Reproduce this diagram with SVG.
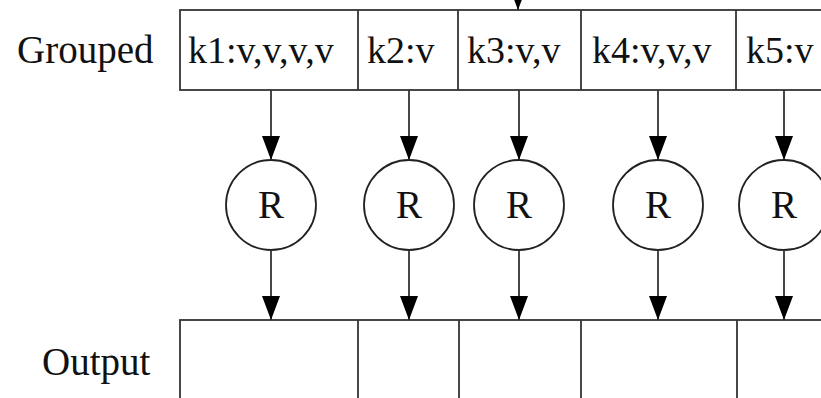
<svg xmlns="http://www.w3.org/2000/svg" width="821" height="398" viewBox="0 0 821 398">
<defs>
<style>
.box{fill:#fff;stroke:#333;stroke-width:1.8}
.div{stroke:#333;stroke-width:1.8}
.lbl{font-family:"Liberation Serif","Times New Roman",serif;font-size:39px;fill:#111}
.cell{font-family:"Liberation Serif","Times New Roman",serif;font-size:38px;fill:#111}
.circ{fill:#fff;stroke:#222;stroke-width:1.8}
.conn{stroke:#333;stroke-width:1.8;fill:none}
</style>
<marker id="ah" viewBox="0 0 24 18" refX="24" refY="9" markerWidth="24" markerHeight="18" markerUnits="userSpaceOnUse" orient="auto">
<path d="M0,0 L24,9 L0,18 z" fill="#000"/>
</marker>
</defs>
<rect width="821" height="398" fill="#fff"/>

<g id="label-grouped"><text class="lbl" x="17" y="63">Grouped</text></g>
<g id="label-output"><text class="lbl" x="42" y="375">Output</text></g>

<g id="grouped">
<rect class="box" x="180" y="10" width="660" height="80"/>
<line class="div" x1="358" y1="10" x2="358" y2="90"/>
<line class="div" x1="458" y1="10" x2="458" y2="90"/>
<line class="div" x1="581" y1="10" x2="581" y2="90"/>
<line class="div" x1="736" y1="10" x2="736" y2="90"/>
<text class="cell" x="188" y="63">k1:v,v,v,v</text>
<text class="cell" x="367" y="63">k2:v</text>
<text class="cell" x="467" y="63">k3:v,v</text>
<text class="cell" x="592" y="63">k4:v,v,v</text>
<text class="cell" x="746" y="63">k5:v</text>
</g>

<g id="r1"><circle class="circ" cx="271" cy="205" r="45"/><text class="lbl" x="271" y="218" text-anchor="middle">R</text></g>
<g id="r2"><circle class="circ" cx="409" cy="205" r="45"/><text class="lbl" x="409" y="218" text-anchor="middle">R</text></g>
<g id="r3"><circle class="circ" cx="519" cy="205" r="45"/><text class="lbl" x="519" y="218" text-anchor="middle">R</text></g>
<g id="r4"><circle class="circ" cx="658" cy="205" r="45"/><text class="lbl" x="658" y="218" text-anchor="middle">R</text></g>
<g id="r5"><circle class="circ" cx="784" cy="205" r="45"/><text class="lbl" x="784" y="218" text-anchor="middle">R</text></g>

<g id="output">
<rect class="box" x="180" y="320" width="660" height="100"/>
<line class="div" x1="358" y1="320" x2="358" y2="398"/>
<line class="div" x1="459" y1="320" x2="459" y2="398"/>
<line class="div" x1="581" y1="320" x2="581" y2="398"/>
<line class="div" x1="737" y1="320" x2="737" y2="398"/>
</g>

<g id="connectors">
<line class="conn" x1="518" y1="-30" x2="518" y2="10" marker-end="url(#ah)"/>
<line class="conn" x1="271" y1="90" x2="271" y2="160" marker-end="url(#ah)"/>
<line class="conn" x1="409" y1="90" x2="409" y2="160" marker-end="url(#ah)"/>
<line class="conn" x1="519" y1="90" x2="519" y2="160" marker-end="url(#ah)"/>
<line class="conn" x1="658" y1="90" x2="658" y2="160" marker-end="url(#ah)"/>
<line class="conn" x1="784" y1="90" x2="784" y2="160" marker-end="url(#ah)"/>
<line class="conn" x1="271" y1="250" x2="271" y2="320" marker-end="url(#ah)"/>
<line class="conn" x1="409" y1="250" x2="409" y2="320" marker-end="url(#ah)"/>
<line class="conn" x1="519" y1="250" x2="519" y2="320" marker-end="url(#ah)"/>
<line class="conn" x1="658" y1="250" x2="658" y2="320" marker-end="url(#ah)"/>
<line class="conn" x1="784" y1="250" x2="784" y2="320" marker-end="url(#ah)"/>
</g>
</svg>
